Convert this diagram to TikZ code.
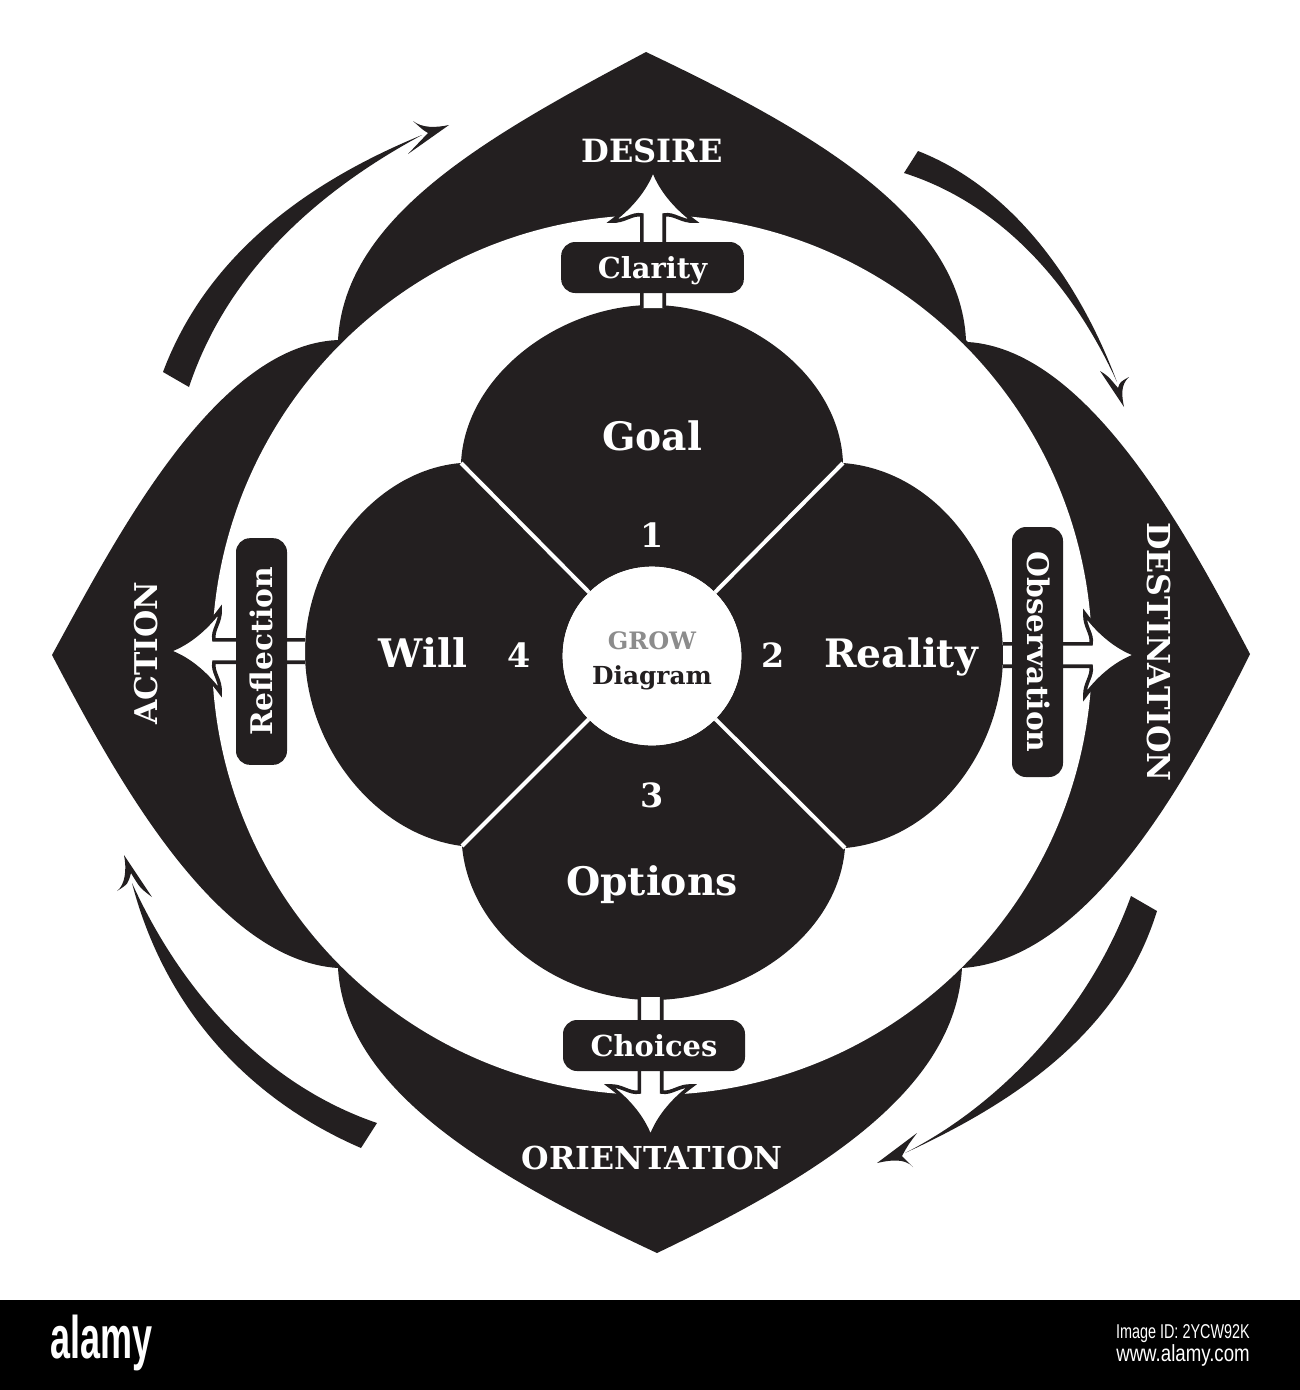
\documentclass[tikz,border=0pt]{standalone}
\usepackage{fontspec}
\setmainfont{DejaVu Serif}
\newfontfamily\credit{Liberation Sans}
\definecolor{ink}{HTML}{231F20}
\newcommand{\px}{0.75pt}
\tikzset{
  solid ink/.style={fill=ink,draw=none},
  lab/.style={inner sep=0pt,anchor=base,text=white,font=\bfseries\fontsize{#1}{#1}\selectfont},
  pill/.style={fill=ink,rounded corners=10.5pt,inner sep=0pt,text=white,
    text height=27pt,text depth=11.25pt,align=center,
    font=\bfseries\fontsize{21.7}{22}\selectfont},
  pill big/.style={pill,font=\bfseries\fontsize{22.3}{22}\selectfont},
  arrow body/.style={fill=white,draw=ink,line width=2.7pt,miter limit=10,line join=miter},
}
% hollow arrow: local origin on the tip, pointing up the page; #1 shift, #2 rotation, #3 length
\newcommand{\growarrow}[3]{%
  \begin{scope}[shift={(#1)},rotate=#2]
    \path[arrow body] (-11.2,#3) -- (-11.2,43)
      .. controls (-21,41) and (-29,50) .. (-41,49)
      .. controls (-26,38) and (-8,20) .. (0,-3)
      .. controls (8,20) and (26,38) .. (41,49)
      .. controls (29,50) and (21,41) .. (11.2,43)
      -- (11.2,#3);
  \end{scope}}
\begin{document}
\begin{tikzpicture}[x=0.75pt,y=-0.75pt]
\useasboundingbox (0,0) rectangle (1300,1390);
\fill[white] (0,0) rectangle (1300,1390);
% outer four-pointed shape
\path[solid ink] (338,340)
  .. controls (345,215) and (490,135) .. (646,52)
  .. controls (810,130) and (960,215) .. (966,340)
  -- (968,342)
  .. controls (1090,350) and (1190,540) .. (1250,654)
  .. controls (1190,775) and (1090,960) .. (962,968)
  .. controls (955,1090) and (820,1175) .. (657,1253)
  .. controls (490,1175) and (345,1090) .. (338,968)
  .. controls (215,960) and (115,775) .. (52,655)
  .. controls (115,540) and (215,345) .. (338,340) -- cycle;
\fill[white] (652,655) circle [radius=440*\px];
% four lobes
\path[solid ink] (461,463)
  .. controls (465,375) and (560,305) .. (652,305)
  .. controls (745,305) and (840,375) .. (843,463)
  .. controls (935,470) and (1003,560) .. (1003,655)
  .. controls (1003,750) and (935,840) .. (845,848)
  .. controls (838,935) and (745,1000) .. (652,1000)
  .. controls (560,1000) and (470,935) .. (462,846)
  .. controls (375,835) and (305,745) .. (305,652)
  .. controls (305,560) and (375,470) .. (461,463) -- cycle;
% hollow arrows
\growarrow{653,172}{0}{136}
\growarrow{650.5,1135}{180}{138}
\growarrow{171,651}{90}{134}
\growarrow{1134,655}{-90}{131}
% hub and separators
\node[circle,fill=white,minimum size=134pt,inner sep=0pt] (hub) at (652,656) {};
\coordinate (ne) at (843,463);
\coordinate (nw) at (461,463);
\coordinate (se) at (845,848);
\coordinate (sw) at (462,846);
\foreach \c in {ne,nw,se,sw} \draw[white,line width=3pt] (hub) -- (\c);
\node[circle,fill=white,minimum size=134pt,inner sep=0pt] at (hub) {};
% labelled pills
\node[pill,minimum width=137pt] (clarity) at (652.5,267.5) {Clarity};
\node[pill,minimum width=136.5pt] (choices) at (654,1045.5) {Choices};
\node[pill big,minimum width=170pt,rotate=90] (reflection) at (261.5,651.5) {Reflection};
\node[pill big,minimum width=187.5pt,rotate=-90] (observation) at (1037.5,652) {Observation};
% curved arrows: top right
\path[solid ink] (918,151) .. controls (1005,185) and (1075,270) .. (1117,382)
  .. controls (1075,290) and (1005,205) .. (904,173) -- cycle;
\path[solid ink] (1124,407) -- (1100,371) .. controls (1108,376) .. (1118,388)
  .. controls (1120,382) .. (1129,377) .. controls (1120,385) and (1122,397) .. (1124,407) -- cycle;
% bottom right
\path[solid ink] (1157,911) .. controls (1120,1030) and (1020,1100) .. (905,1153)
  .. controls (1000,1105) and (1090,1010) .. (1131,896) -- cycle;
\path[solid ink] (877,1163) -- (917,1133) .. controls (908,1145) .. (902,1156)
  .. controls (906,1160) .. (913,1167) .. controls (905,1158) and (890,1160) .. (877,1163) -- cycle;
% bottom left
\path[solid ink] (377,1123) .. controls (280,1090) and (190,1010) .. (132,883)
  .. controls (165,1010) and (250,1100) .. (361,1148) -- cycle;
\path[solid ink] (124,855) -- (152,897) .. controls (140,888) .. (131,873)
  .. controls (128,884) .. (117,891) .. controls (125,885) and (127,870) .. (124,855) -- cycle;
% top left
\path[solid ink] (163,372) .. controls (205,260) and (300,185) .. (422,135)
  .. controls (320,190) and (228,270) .. (189,387) -- cycle;
\path[solid ink] (449,125) -- (408,154) .. controls (418,143) .. (428,133)
  .. controls (423,130) .. (413,121) .. controls (422,128) and (435,128) .. (449,125) -- cycle;
% outer words
\node[lab=24] (desire) at (652,162) {DESIRE};
\node[lab=23.7] (orientation) at (652,1169) {ORIENTATION};
\node[lab=23.5,rotate=90] (action) at (157,653) {ACTION};
\node[lab=23.7,rotate=-90] (destination) at (1147,652) {DESTINATION};
% lobe words
\node[lab=29.4] (goal) at (652,450) {Goal};
\node[lab=29.5] (will) at (423,667) {Will};
\node[lab=29.4] (reality) at (901,667) {Reality};
\node[lab=29.5] (options) at (652,895) {Options};
\node[lab=25] (n1) at (652,547) {1};
\node[lab=25] (n2) at (773,667) {2};
\node[lab=25] (n3) at (652,807) {3};
\node[lab=25] (n4) at (519,667) {4};
\node[lab=18,text=black!45] (grow) at (652,649) {GROW};
\node[lab=18.6,text=ink] (diagram) at (652,684) {Diagram};
% credit strip
\fill[black] (0,1300) rectangle (1300,1390);
\node[inner sep=0pt,anchor=base west,text=white] (logo) at (50,1358)
  {\scalebox{0.6}[1]{\credit\bfseries\fontsize{45}{45}\selectfont alamy}};
\node[inner sep=0pt,anchor=base east,text=white] (imgid) at (1250,1338)
  {\scalebox{0.72}[1]{\credit\fontsize{15}{15}\selectfont Image ID: 2YCW92K}};
\node[inner sep=0pt,anchor=base east,text=white] (site) at (1250,1361)
  {\scalebox{0.8}[1]{\credit\fontsize{17.5}{17.5}\selectfont www.alamy.com}};
\end{tikzpicture}
\end{document}
